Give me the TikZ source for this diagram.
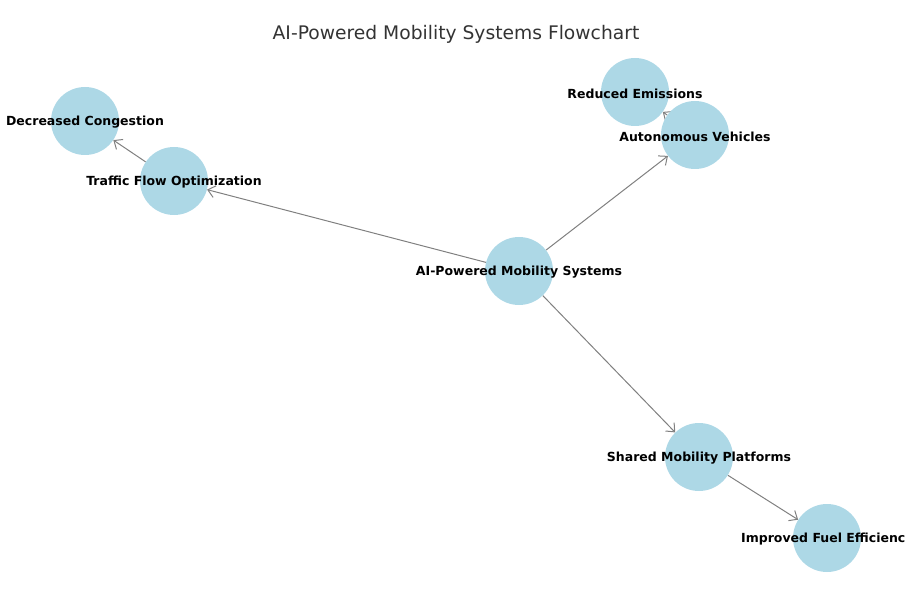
\documentclass[tikz,border=0pt]{standalone}
\usepackage{fontspec}
\setmainfont{DejaVu Sans}
\usetikzlibrary{arrows.meta}
\definecolor{nodeblue}{HTML}{ADD8E6}
\definecolor{edgegray}{HTML}{808080}
\definecolor{titlegray}{HTML}{333333}
\pgfdeclarelayer{bg}
\pgfsetlayers{bg,main}
\tikzset{
  dot/.style={circle, fill=nodeblue, draw=none, minimum size=68bp, inner sep=0pt},
  lbl/.style={font=\bfseries\fontsize{12.5bp}{15bp}\selectfont, text=black, inner sep=0pt},
  edge/.style={draw=edgegray, line width=1bp, -{Straight Barb[length=7bp,width=12bp]}},
}
\begin{document}
\begin{tikzpicture}[x=1bp,y=1bp]
\useasboundingbox (0,0) rectangle (914,-601);
\node[font=\fontsize{18.7bp}{21bp}\selectfont, text=titlegray] (title) at (456,-34.5) {AI-Powered Mobility Systems Flowchart};
\node[dot] (ai) at (519,-271) {};
\node[dot] (tf) at (174,-181) {};
\node[dot] (dc) at (85,-121) {};
\node[dot] (av) at (695,-135) {};
\node[dot] (re) at (635,-92) {};
\node[dot] (sm) at (699,-457) {};
\node[dot] (ife) at (827,-538) {};
\begin{pgfonlayer}{bg}
\draw[edge] (ai) -- (tf);
\draw[edge] (ai) -- (av);
\draw[edge] (ai) -- (sm);
\draw[edge] (tf) -- (dc);
\draw[edge] (av) -- (re);
\draw[edge] (sm) -- (ife);
\end{pgfonlayer}
\node[lbl] (ail) at (519,-272.5) {AI-Powered Mobility Systems};
\node[lbl] (tfl) at (174,-182.5) {Traffic Flow Optimization};
\node[lbl] (dcl) at (85,-122.5) {Decreased Congestion};
\node[lbl] (rel) at (635,-93.5) {Reduced Emissions};
\node[lbl] (avl) at (695,-136.5) {Autonomous Vehicles};
\node[lbl] (sml) at (699,-458.5) {Shared Mobility Platforms};
\node[lbl, anchor=west] (ifel) at (741,-539.5) {Improved Fuel Efficienc};
\end{tikzpicture}
\end{document}
